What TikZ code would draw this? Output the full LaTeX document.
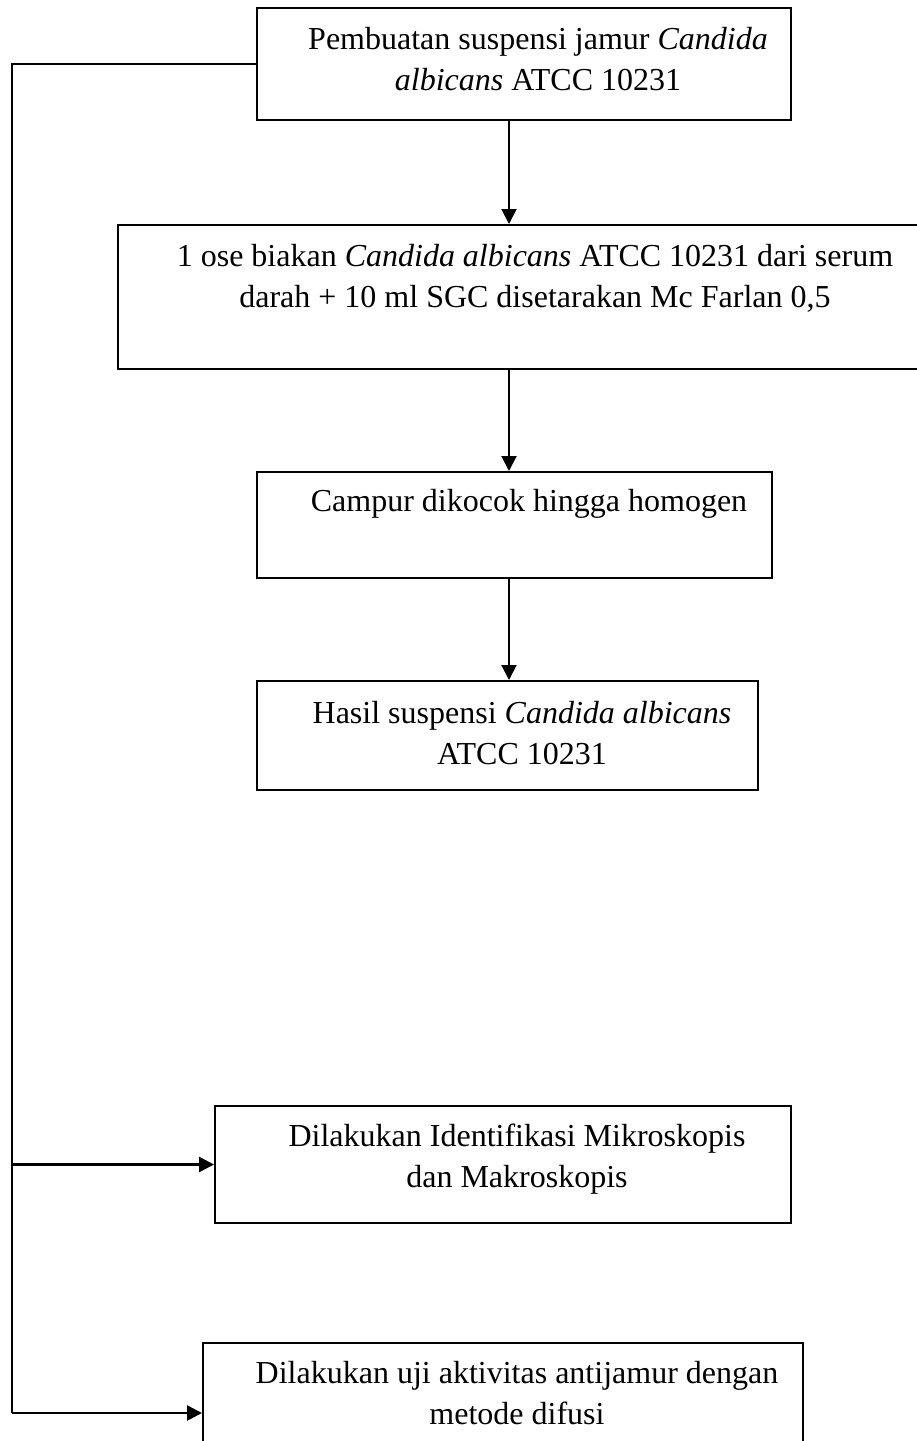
\documentclass[tikz,border=0pt]{standalone}
\usepackage{fontspec}
\setmainfont{Liberation Serif}
\usetikzlibrary{arrows.meta}

\begin{document}
\begin{tikzpicture}[
  x=1pt,
  y=-1pt,
  every node/.style={font=\fontsize{32}{41}\selectfont, black},
  box/.style={draw, line width=2pt, rectangle, inner sep=0pt},
  txt/.style={align=center, inner sep=0pt},
  flow/.style={line width=2pt, -{Triangle[length=15pt, width=15pt]}},
  feed/.style={line width=2.6pt, -{Triangle[length=15pt, width=15pt]}}
]
  \clip (0,0) rectangle (917,1441);
  \fill[white] (0,0) rectangle (917,1441);

  % ================= the main column =====================================
  \node[box, minimum width=534pt, minimum height=112pt] (b1) at (524,64) {};
  \node[box, anchor=north west, minimum width=900pt, minimum height=144pt]
    (b2) at (117,224) {};
  \node[box, minimum width=515pt, minimum height=106pt] (b3) at (514.5,525) {};
  \node[box, minimum width=501pt, minimum height=109pt] (b4) at (507.5,735.5) {};

  \node[txt] (t1) at (538,59)
    {Pembuatan suspensi jamur \textit{Candida}\\ \textit{albicans} ATCC 10231};
  \node[txt] (t2) at (535,278)
    {1 ose biakan \textit{Candida albicans} ATCC 10231 dari serum\\
     darah + 10 ml SGC disetarakan Mc Farlan 0,5};
  \node[txt] (t3) at (529,504) {Campur dikocok hingga homogen};
  \node[txt] (t4) at (522,733)
    {Hasil suspensi \textit{Candida albicans}\\ ATCC 10231};

  % the arrows run down a common line, a little left of the box centres
  \coordinate (axis) at (509,0);
  \draw[flow] (b1.south -| axis) -- (b2.north -| axis);
  \draw[flow] (b2.south -| axis) -- (b3.north -| axis);
  \draw[flow] (b3.south -| axis) -- (b4.north -| axis);

  % ================= the two tests fed from the left rail ================
  \node[box, minimum width=576pt, minimum height=117pt] (b5) at (503,1164.5) {};
  \node[box, anchor=north west, minimum width=600pt, minimum height=140pt]
    (b6) at (202,1342) {};

  \node[txt] (t5) at (517,1159)
    {Dilakukan Identifikasi Mikroskopis\\ dan Makroskopis};
  \node[txt] (t6) at (517,1393)
    {Dilakukan uji aktivitas antijamur dengan\\ metode difusi};

  \coordinate (rail) at (12,0);
  \draw[line width=2pt] (b1.west) -- (b1.west -| rail) -- (rail |- b6.west);
  \draw[feed] (rail |- b6.west) -- (b6.west);
  \draw[feed] (rail |- b5.west) -- (b5.west);
\end{tikzpicture}
\end{document}
